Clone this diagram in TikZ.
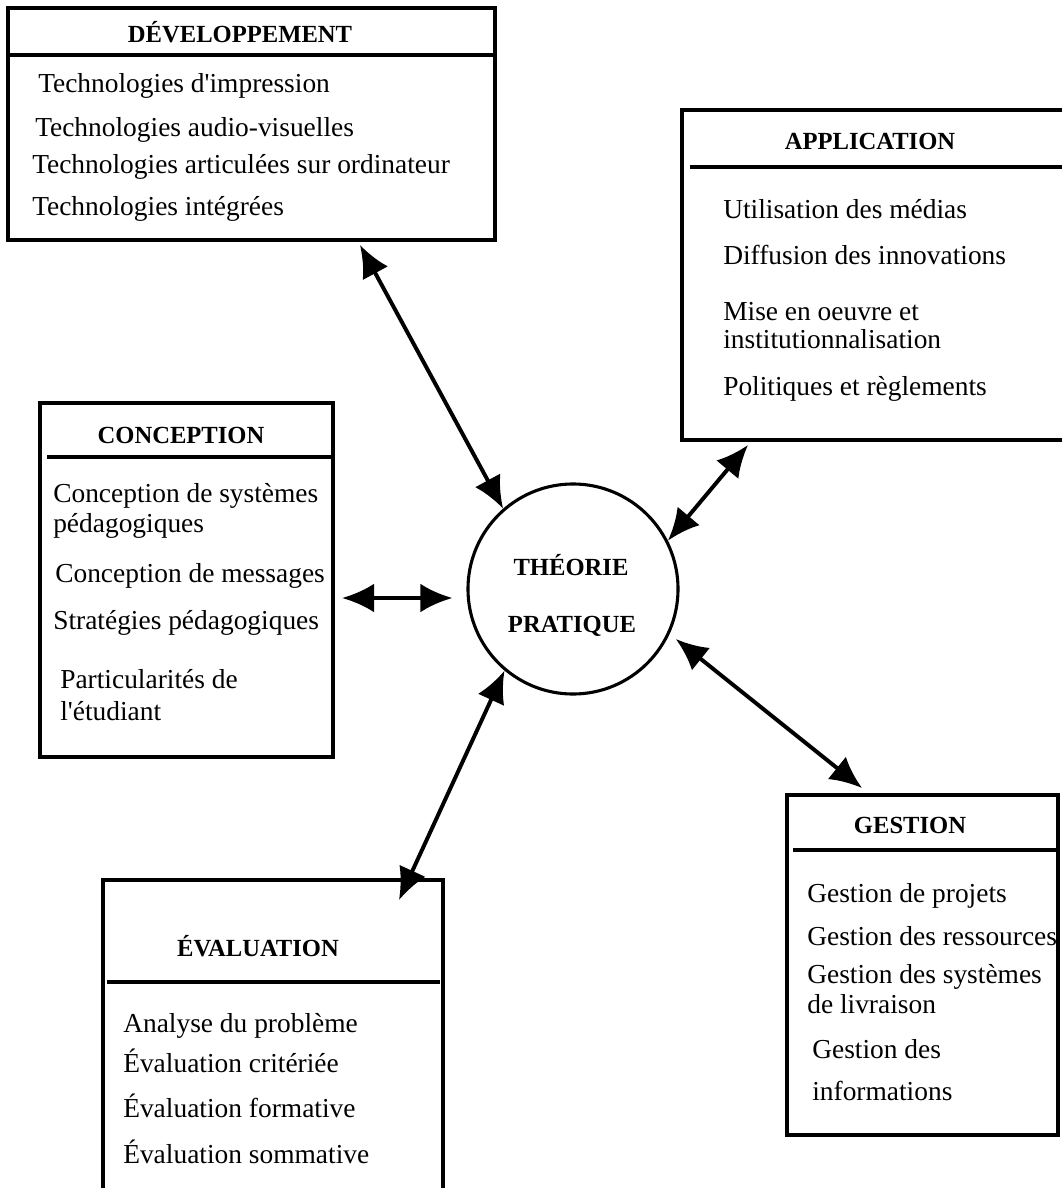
\documentclass[tikz,border=0pt]{standalone}
\usepackage{fontspec}
\setmainfont{Liberation Serif}
\usetikzlibrary{arrows.meta,positioning}
\tikzset{%
	panel/.style = {draw, rectangle, line width=2.4pt, inner sep=0pt, outer sep=0pt, anchor=north west},
	rule/.style  = {line width=2.2pt},
	title/.style = {font=\fontsize{17.5}{21}\selectfont\bfseries, anchor=base, inner sep=0pt},
	item/.style  = {font=\fontsize{19.5}{23}\selectfont, anchor=base west, inner sep=0pt},
	link/.style  = {line width=2.8pt, {Latex[length=0.8cm,width=0.72cm]}-{Latex[length=0.8cm,width=0.72cm]}},
}

\begin{document}
\begin{tikzpicture}[x=0.025cm,y=-0.025cm]
		\useasboundingbox (0,0) rectangle (1061,1188);
		
		% centre
		\node[draw, circle, line width=2.2pt, minimum size=5.25cm, inner sep=0pt] (core) at (573,589) {};
		\node[title] (theo) at (571,575) {THÉORIE};
		\node[title] (prat) at (572,632) {PRATIQUE};
		
		% developpement
		\node[panel, minimum width=12.175cm, minimum height=5.8cm] (dev) at (8,8) {};
		\draw[rule] (8,55) -- (495,55);
		\node[title] (devt) at (240,43) {DÉVELOPPEMENT};
		\foreach \x/\y/\txt [count=\i] in {38/93/{Technologies d\textquotesingle impression}, 35/137/{Technologies audio-visuelles}, 32/174/{Technologies articulées sur ordinateur}, 32/216/{Technologies intégrées}}
			\node[item] (dev-\i) at (\x,\y) {\txt};
		
		% conception
		\node[panel, minimum width=7.325cm, minimum height=8.85cm] (con) at (40,403) {};
		\draw[rule] (47,457) -- (333,457);
		\node[title] (cont) at (181,443) {CONCEPTION};
		\foreach \x/\y/\txt [count=\i] in {53/502/{Conception de systèmes}, 53/532/{pédagogiques}, 55/582/{Conception de messages}, 53/629/{Stratégies pédagogiques}, 60/688/{Particularités de}, 60/720/{l\textquotesingle étudiant}}
			\node[item] (con-\i) at (\x,\y) {\txt};
		
		% application
		\node[panel, minimum width=9.825cm, minimum height=8.25cm] (app) at (682,110) {};
		\draw[rule] (690,167) -- (1075,167);
		\node[title] (appt) at (870,150) {APPLICATION};
		\foreach \y/\txt [count=\i] in {219/{Utilisation des médias}, 265/{Diffusion des innovations}, 320/{Mise en oeuvre et}, 348/{institutionnalisation}, 395/{Politiques et règlements}}
			\node[item] (app-\i) at (723,\y) {\txt};
		
		% gestion
		\node[panel, minimum width=6.775cm, minimum height=8.5cm] (ges) at (787,795) {};
		\draw[rule] (793,850) -- (1058,850);
		\node[title] (gest) at (910,833) {GESTION};
		\foreach \x/\y/\txt [count=\i] in {807/902/{Gestion de projets}, 807/945/{Gestion des ressources}, 807/983/{Gestion des systèmes}, 807/1013/{de livraison}, 812/1058/{Gestion des}, 812/1100/{informations}}
			\node[item] (ges-\i) at (\x,\y) {\txt};
		
		% evaluation
		\node[panel, minimum width=8.5cm, minimum height=8.25cm] (eva) at (103,880) {};
		\draw[rule] (107,982) -- (440,982);
		\node[title] (evat) at (258,956) {ÉVALUATION};
		\foreach \y/\txt [count=\i] in {1032/{Analyse du problème}, 1072/{Évaluation critériée}, 1117/{Évaluation formative}, 1163/{Évaluation sommative}}
			\node[item] (eva-\i) at (123,\y) {\txt};
		
		% liens
		\coordinate (devport) at (360,245);
		\coordinate (appport) at (748,445);
		\coordinate (gesport) at (862,788);
		\coordinate (evaport) at (399,900);
		\coordinate (conport) at (342,598);
		
		\draw[link] (devport) -- (core.131);
		\draw[link] (appport) -- (core.27);
		\draw[link, shorten <=0.2cm] (core.-25) -- (gesport);
		\draw[link] (core.230) -- (evaport);
		\draw[link, shorten >=0.35cm] (conport) -- (conport -| core.west);
\end{tikzpicture}
\end{document}
